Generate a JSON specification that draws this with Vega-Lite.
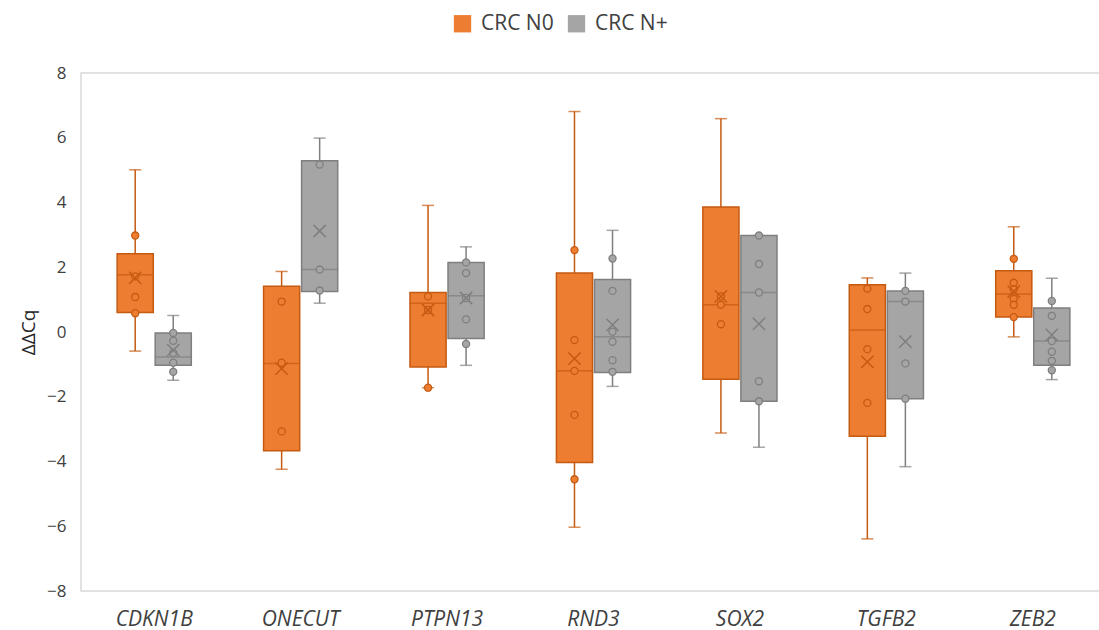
{
  "$schema": "https://vega.github.io/schema/vega-lite/v6.json",
  "autosize": "none",
  "width": 1025,
  "height": 518,
  "padding": {"left": 81, "top": 73, "right": 0, "bottom": 39},
  "background": "white",
  "config": {
    "view": {"stroke": "#d9d9d9", "strokeWidth": 1.5},
    "font": "Open Sans"
  },
  "datasets": {
    "boxes": [
      {"gene": "CDKN1B", "group": "CRC N0", "min": -0.59, "q1": 0.6, "median": 1.77, "q3": 2.42, "max": 5.01, "mean": 1.67},
      {"gene": "CDKN1B", "group": "CRC N+", "min": -1.49, "q1": -1.03, "median": -0.77, "q3": -0.03, "max": 0.51, "mean": -0.56},
      {"gene": "ONECUT", "group": "CRC N0", "min": -4.24, "q1": -3.67, "median": -0.97, "q3": 1.41, "max": 1.87, "mean": -1.13},
      {"gene": "ONECUT", "group": "CRC N+", "min": 0.89, "q1": 1.25, "median": 1.93, "q3": 5.29, "max": 5.99, "mean": 3.12},
      {"gene": "PTPN13", "group": "CRC N0", "min": -1.72, "q1": -1.08, "median": 0.89, "q3": 1.22, "max": 3.91, "mean": 0.68},
      {"gene": "PTPN13", "group": "CRC N+", "min": -1.03, "q1": -0.2, "median": 1.12, "q3": 2.15, "max": 2.63, "mean": 1.05},
      {"gene": "RND3", "group": "CRC N0", "min": -6.03, "q1": -4.03, "median": -1.2, "q3": 1.82, "max": 6.81, "mean": -0.82},
      {"gene": "RND3", "group": "CRC N+", "min": -1.68, "q1": -1.25, "median": -0.15, "q3": 1.62, "max": 3.14, "mean": 0.22},
      {"gene": "SOX2", "group": "CRC N0", "min": -3.12, "q1": -1.46, "median": 0.84, "q3": 3.86, "max": 6.59, "mean": 1.1},
      {"gene": "SOX2", "group": "CRC N+", "min": -3.56, "q1": -2.14, "median": 1.22, "q3": 2.98, "max": 2.98, "mean": 0.25},
      {"gene": "TGFB2", "group": "CRC N0", "min": -6.39, "q1": -3.22, "median": 0.06, "q3": 1.46, "max": 1.67, "mean": -0.92},
      {"gene": "TGFB2", "group": "CRC N+", "min": -4.16, "q1": -2.06, "median": 0.94, "q3": 1.27, "max": 1.82, "mean": -0.3},
      {"gene": "ZEB2", "group": "CRC N0", "min": -0.15, "q1": 0.46, "median": 1.17, "q3": 1.89, "max": 3.25, "mean": 1.25},
      {"gene": "ZEB2", "group": "CRC N+", "min": -1.47, "q1": -1.03, "median": -0.28, "q3": 0.74, "max": 1.66, "mean": -0.09}
    ],
    "points": [
      {"gene": "CDKN1B", "group": "CRC N0", "value": 2.98},
      {"gene": "CDKN1B", "group": "CRC N0", "value": 1.72},
      {"gene": "CDKN1B", "group": "CRC N0", "value": 1.08},
      {"gene": "CDKN1B", "group": "CRC N0", "value": 0.58},
      {"gene": "CDKN1B", "group": "CRC N+", "value": -0.03},
      {"gene": "CDKN1B", "group": "CRC N+", "value": -0.27},
      {"gene": "CDKN1B", "group": "CRC N+", "value": -0.65},
      {"gene": "CDKN1B", "group": "CRC N+", "value": -0.95},
      {"gene": "CDKN1B", "group": "CRC N+", "value": -1.23},
      {"gene": "ONECUT", "group": "CRC N0", "value": 0.94},
      {"gene": "ONECUT", "group": "CRC N0", "value": -0.95},
      {"gene": "ONECUT", "group": "CRC N0", "value": -3.07},
      {"gene": "ONECUT", "group": "CRC N+", "value": 5.17},
      {"gene": "ONECUT", "group": "CRC N+", "value": 1.93},
      {"gene": "ONECUT", "group": "CRC N+", "value": 1.28},
      {"gene": "PTPN13", "group": "CRC N0", "value": 1.1},
      {"gene": "PTPN13", "group": "CRC N0", "value": 0.68},
      {"gene": "PTPN13", "group": "CRC N0", "value": -1.72},
      {"gene": "PTPN13", "group": "CRC N+", "value": 2.15},
      {"gene": "PTPN13", "group": "CRC N+", "value": 1.82},
      {"gene": "PTPN13", "group": "CRC N+", "value": 1.05},
      {"gene": "PTPN13", "group": "CRC N+", "value": 0.39},
      {"gene": "PTPN13", "group": "CRC N+", "value": -0.37},
      {"gene": "RND3", "group": "CRC N0", "value": 2.53},
      {"gene": "RND3", "group": "CRC N0", "value": -0.25},
      {"gene": "RND3", "group": "CRC N0", "value": -1.2},
      {"gene": "RND3", "group": "CRC N0", "value": -2.56},
      {"gene": "RND3", "group": "CRC N0", "value": -4.55},
      {"gene": "RND3", "group": "CRC N+", "value": 2.27},
      {"gene": "RND3", "group": "CRC N+", "value": 1.27},
      {"gene": "RND3", "group": "CRC N+", "value": 0.01},
      {"gene": "RND3", "group": "CRC N+", "value": -0.3},
      {"gene": "RND3", "group": "CRC N+", "value": -0.87},
      {"gene": "RND3", "group": "CRC N+", "value": -1.23},
      {"gene": "SOX2", "group": "CRC N0", "value": 1.1},
      {"gene": "SOX2", "group": "CRC N0", "value": 0.84},
      {"gene": "SOX2", "group": "CRC N0", "value": 0.24},
      {"gene": "SOX2", "group": "CRC N+", "value": 2.98},
      {"gene": "SOX2", "group": "CRC N+", "value": 2.1},
      {"gene": "SOX2", "group": "CRC N+", "value": 1.22},
      {"gene": "SOX2", "group": "CRC N+", "value": -1.52},
      {"gene": "SOX2", "group": "CRC N+", "value": -2.14},
      {"gene": "TGFB2", "group": "CRC N0", "value": 1.34},
      {"gene": "TGFB2", "group": "CRC N0", "value": 0.71},
      {"gene": "TGFB2", "group": "CRC N0", "value": -0.53},
      {"gene": "TGFB2", "group": "CRC N0", "value": -2.19},
      {"gene": "TGFB2", "group": "CRC N+", "value": 1.27},
      {"gene": "TGFB2", "group": "CRC N+", "value": 0.94},
      {"gene": "TGFB2", "group": "CRC N+", "value": -0.97},
      {"gene": "TGFB2", "group": "CRC N+", "value": -2.06},
      {"gene": "ZEB2", "group": "CRC N0", "value": 2.26},
      {"gene": "ZEB2", "group": "CRC N0", "value": 1.52},
      {"gene": "ZEB2", "group": "CRC N0", "value": 1.32},
      {"gene": "ZEB2", "group": "CRC N0", "value": 1.02},
      {"gene": "ZEB2", "group": "CRC N0", "value": 0.84},
      {"gene": "ZEB2", "group": "CRC N0", "value": 0.46},
      {"gene": "ZEB2", "group": "CRC N+", "value": 0.96},
      {"gene": "ZEB2", "group": "CRC N+", "value": 0.5},
      {"gene": "ZEB2", "group": "CRC N+", "value": -0.28},
      {"gene": "ZEB2", "group": "CRC N+", "value": -0.61},
      {"gene": "ZEB2", "group": "CRC N+", "value": -0.89},
      {"gene": "ZEB2", "group": "CRC N+", "value": -1.18}
    ]
  },
  "encoding": {
    "x": {
      "field": "gene", "type": "nominal", "sort": null,
      "scale": {"paddingInner": 0, "paddingOuter": 0},
      "axis": {"title": null, "domain": false, "ticks": false, "labelAngle": 0, "labelFont": "Open Sans", "labelFontStyle": "italic", "labelFontSize": 21, "labelColor": "#404040", "labelPadding": 17}
    },
    "xOffset": {
      "field": "group", "type": "nominal",
      "scale": {"domain": ["CRC N0", "CRC N+"], "paddingInner": 0.05, "paddingOuter": 0.95}
    }
  },
  "resolve": {"scale": {"fill": "independent"}},
  "layer": [
    {
      "data": {"name": "boxes"},
      "mark": {"type": "rule", "strokeWidth": 1.5},
      "encoding": {
        "y": {"field": "min", "type": "quantitative", "scale": {"domain": [-8, 8], "nice": false, "zero": false},
          "axis": {"title": "ΔΔCq", "values": [-8, -6, -4, -2, 0, 2, 4, 6, 8], "grid": false, "domain": false, "ticks": false, "labelFont": "Open Sans", "labelFontSize": 17, "labelColor": "#404040", "labelPadding": 15, "titleFont": "Open Sans", "titleFontSize": 19, "titleFontWeight": "normal", "titleColor": "#262626", "titlePadding": 8}},
        "y2": {"field": "max"},
        "stroke": {"field": "group", "type": "nominal", "scale": {"domain": ["CRC N0", "CRC N+"], "range": ["#C55A11", "#7F7F7F"]}, "legend": null}
      }
    },
    {
      "data": {"name": "boxes"},
      "mark": {"type": "tick", "size": 12, "thickness": 1.5},
      "encoding": {
        "y": {"field": "min", "type": "quantitative"},
        "fill": {"field": "group", "type": "nominal", "scale": {"domain": ["CRC N0", "CRC N+"], "range": ["#C55A11", "#7F7F7F"]}, "legend": null}
      }
    },
    {
      "data": {"name": "boxes"},
      "mark": {"type": "tick", "size": 12, "thickness": 1.5},
      "encoding": {
        "y": {"field": "max", "type": "quantitative"},
        "fill": {"field": "group", "type": "nominal", "scale": {"domain": ["CRC N0", "CRC N+"], "range": ["#C55A11", "#7F7F7F"]}, "legend": null}
      }
    },
    {
      "data": {"name": "boxes"},
      "mark": {"type": "bar", "strokeWidth": 1.5},
      "encoding": {
        "y": {"field": "q1", "type": "quantitative"},
        "y2": {"field": "q3"},
        "fill": {"field": "group", "type": "nominal", "scale": {"domain": ["CRC N0", "CRC N+"], "range": ["#ED7D31", "#A5A5A5"]},
          "legend": {"title": null, "orient": "none", "legendX": 371, "legendY": -60, "direction": "horizontal", "symbolType": "square", "symbolSize": 300, "symbolStrokeWidth": 1.5, "labelFont": "Open Sans", "labelFontSize": 21, "labelColor": "#404040", "columnPadding": 12, "labelOffset": 8}},
        "stroke": {"field": "group", "type": "nominal"}
      }
    },
    {
      "data": {"name": "boxes"},
      "mark": {"type": "tick", "size": 36, "thickness": 1.5},
      "encoding": {
        "y": {"field": "median", "type": "quantitative"},
        "fill": {"field": "group", "type": "nominal", "scale": {"domain": ["CRC N0", "CRC N+"], "range": ["#C55A11", "#7F7F7F"]}, "legend": null}
      }
    },
    {
      "data": {"name": "points"},
      "mark": {"type": "point", "shape": "circle", "size": 50, "filled": false, "strokeWidth": 1.3, "opacity": 1},
      "encoding": {
        "y": {"field": "value", "type": "quantitative"},
        "fill": {"field": "group", "type": "nominal", "scale": {"domain": ["CRC N0", "CRC N+"], "range": ["#ED7D31", "#A5A5A5"]}, "legend": null},
        "stroke": {"field": "group", "type": "nominal", "legend": null}
      }
    },
    {
      "data": {"name": "boxes"},
      "mark": {"type": "point", "shape": "M-1,-1L1,1M1,-1L-1,1", "size": 150, "filled": false, "strokeWidth": 1.5, "opacity": 1},
      "encoding": {
        "y": {"field": "mean", "type": "quantitative"},
        "stroke": {"field": "group", "type": "nominal", "legend": null}
      }
    }
  ]
}
